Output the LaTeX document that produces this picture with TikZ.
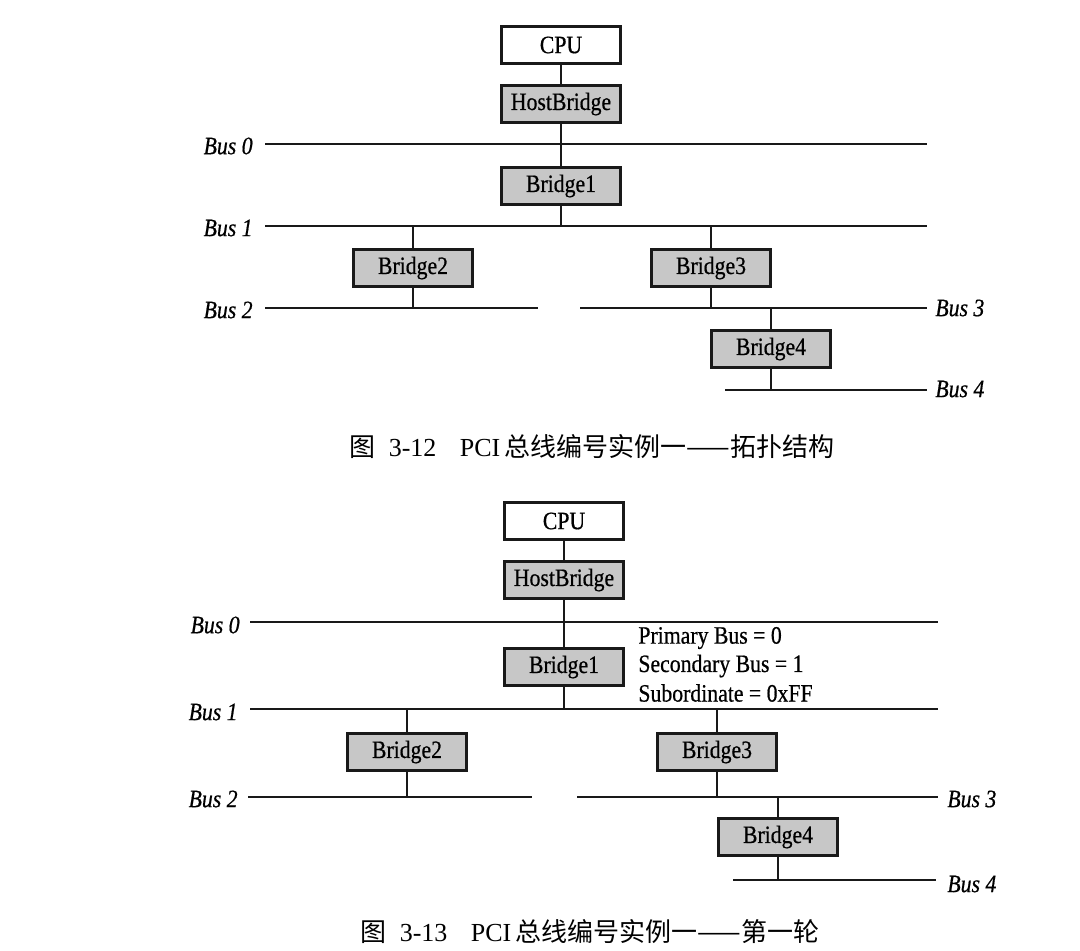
\documentclass[tikz,border=0pt]{standalone}
\usepackage{fontspec}
\setmainfont{Liberation Serif}
\newfontfamily\diafont[FakeStretch=0.87,FakeBold=0.6]{Liberation Serif}
\newfontfamily\cjk{Noto Sans CJK SC}
\begin{document}
\begin{tikzpicture}[x=0.5pt,y=-0.5pt,
  box/.style={draw=black!90,line width=1.1pt,minimum width=59.5pt,minimum height=18.5pt,inner sep=0pt,font=\diafont\fontsize{12.5}{14}\selectfont},
  graybox/.style={box,fill=black!22},
  busline/.style={line width=1.4pt,black!90},
  link/.style={line width=0.9pt,black!90},
  buslabel/.style={font=\diafont\fontsize{12.5}{14}\selectfont\itshape,inner sep=0pt},
  infotext/.style={font=\diafont\fontsize{12.5}{14}\selectfont,inner sep=0pt,anchor=west},
  caption/.style={font=\fontsize{13}{15}\selectfont,inner sep=0pt}]
\useasboundingbox (0,0) rectangle (1080,950);
\fill[white] (0,0) rectangle (1080,950);

% ---------------- Figure 3-12 ----------------
\node[box] (aCPU) at (561,45) {CPU};
\node[graybox] (aHB) at (561,104) {HostBridge};
\node[graybox] (aB1) at (561,186) {Bridge1};
\node[graybox] (aB2) at (413,268) {Bridge2};
\node[graybox] (aB3) at (711,268) {Bridge3};
\node[graybox] (aB4) at (771,349) {Bridge4};

\coordinate (a0L) at (265,144); \coordinate (a0R) at (927,144);
\coordinate (a1L) at (265,226); \coordinate (a1R) at (927,226);
\coordinate (a2L) at (265,308); \coordinate (a2R) at (538,308);
\coordinate (a3L) at (580,308); \coordinate (a3R) at (927,308);
\coordinate (a4L) at (725,390); \coordinate (a4R) at (927,390);

\draw[busline] (a0L) -- (a0R);
\draw[busline] (a1L) -- (a1R);
\draw[busline] (a2L) -- (a2R);
\draw[busline] (a3L) -- (a3R);
\draw[busline] (a4L) -- (a4R);

\node[buslabel,anchor=east] (aL0) at (253,146) {Bus 0};
\node[buslabel,anchor=east] (aL1) at (253,228) {Bus 1};
\node[buslabel,anchor=east] (aL2) at (253,310) {Bus 2};
\node[buslabel,anchor=west] (aL3) at (935,308) {Bus 3};
\node[buslabel,anchor=west] (aL4) at (935,389) {Bus 4};

\draw[link] (aCPU.south) -- (aHB.north);
\draw[link] (aHB.south) -- (aB1.north);
\draw[link] (aB1.south) -- (aB1.south |- a1L);
\draw[link] (aB2.north) -- (aB2.north |- a1L);
\draw[link] (aB3.north) -- (aB3.north |- a1L);
\draw[link] (aB2.south) -- (aB2.south |- a2L);
\draw[link] (aB3.south) -- (aB3.south |- a3L);
\draw[link] (aB4.north) -- (aB4.north |- a3L);
\draw[link] (aB4.south) -- (aB4.south |- a4L);

\node[caption] (capA) at (592,447) {{\cjk 图}\hspace{0.5em}3-12\hspace{0.9em}PCI\,{\cjk 总线编号实例一——拓扑结构}};

% ---------------- Figure 3-13 ----------------
\node[box] (bCPU) at (564,521) {CPU};
\node[graybox] (bHB) at (564,580) {HostBridge};
\node[graybox] (bB1) at (564,667) {Bridge1};
\node[graybox] (bB2) at (407,752) {Bridge2};
\node[graybox] (bB3) at (717,752) {Bridge3};
\node[graybox] (bB4) at (778,837) {Bridge4};

\coordinate (b0L) at (250,622); \coordinate (b0R) at (938,622);
\coordinate (b1L) at (250,709); \coordinate (b1R) at (938,709);
\coordinate (b2L) at (248,797); \coordinate (b2R) at (532,797);
\coordinate (b3L) at (577,797); \coordinate (b3R) at (938,797);
\coordinate (b4L) at (733,880); \coordinate (b4R) at (936,880);

\draw[busline] (b0L) -- (b0R);
\draw[busline] (b1L) -- (b1R);
\draw[busline] (b2L) -- (b2R);
\draw[busline] (b3L) -- (b3R);
\draw[busline] (b4L) -- (b4R);

\node[buslabel,anchor=east] (bL0) at (240,625) {Bus 0};
\node[buslabel,anchor=east] (bL1) at (238,712) {Bus 1};
\node[buslabel,anchor=east] (bL2) at (238,799) {Bus 2};
\node[buslabel,anchor=west] (bL3) at (947,799) {Bus 3};
\node[buslabel,anchor=west] (bL4) at (947,884) {Bus 4};

\draw[link] (bCPU.south) -- (bHB.north);
\draw[link] (bHB.south) -- (bB1.north);
\draw[link] (bB1.south) -- (bB1.south |- b1L);
\draw[link] (bB2.north) -- (bB2.north |- b1L);
\draw[link] (bB3.north) -- (bB3.north |- b1L);
\draw[link] (bB2.south) -- (bB2.south |- b2L);
\draw[link] (bB3.south) -- (bB3.south |- b3L);
\draw[link] (bB4.north) -- (bB4.north |- b3L);
\draw[link] (bB4.south) -- (bB4.south |- b4L);

\node[infotext] (info1) at (638,638) {Primary Bus = 0};
\node[infotext] (info2) at (638,666) {Secondary Bus = 1};
\node[infotext] (info3) at (638,693) {Subordinate = 0xFF};

\node[caption] (capB) at (590,932) {{\cjk 图}\hspace{0.5em}3-13\hspace{0.9em}PCI\,{\cjk 总线编号实例一——第一轮}};
\end{tikzpicture}
\end{document}
